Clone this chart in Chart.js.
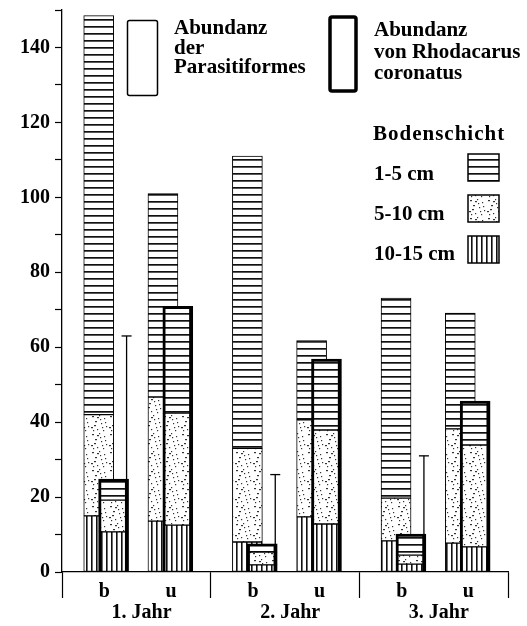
<!DOCTYPE html>
<html><head><meta charset="utf-8">
<script src="https://cdn.jsdelivr.net/npm/chart.js@4"></script>
<style>html,body{margin:0;padding:0;background:#fff;}#wrap{width:527px;height:626px;}</style>
</head><body><div id="wrap"><canvas id="c" width="527" height="626"></canvas></div>
<script>
// ---- data (order: 1.Jahr b, 1.Jahr u, 2.Jahr b, 2.Jahr u, 3.Jahr b, 3.Jahr u)
const years = ['1. Jahr', '2. Jahr', '3. Jahr'];
const sites = ['b', 'u'];
const layerNames = ['1-5 cm', '5-10 cm', '10-15 cm'];
const paraDeep = [15, 13.6, 8, 14.7, 8.3, 7.7];      // 10-15 cm
const paraMid  = [27, 33.1, 25, 25.9, 11.4, 30.5];   // 5-10 cm
const paraTop  = [106.5, 54.3, 78, 21.2, 53.4, 30.9];  // 1-5 cm
const rhodDeep = [10.7, 12.5, 1.9, 12.8, 2.1, 6.7];
const rhodMid  = [8.5, 29.9, 3.4, 25.1, 2.4, 27.2];
const rhodTop  = [5.6, 28.5, 2.2, 18.9, 5.6, 11.7];
const errHigh  = [63, 26, 31];   // error bar tops over Rhodacarus "b"
const yTickValues = [0,10,20,30,40,50,60,70,80,90,100,110,120,130,140,150];
const legendPara = ['Abundanz', 'der', 'Parasitiformes'];
const legendRhod = ['Abundanz', 'von Rhodacarus', 'coronatus'];
const layerTitle = 'Bodenschicht';

// ---- layout constants
const SITE_OFF = [0.247, 0.679];
const RHOD_SHIFT = 0.1;
const LABEL_OFF = [0.285, 0.733];
const GROUP_OFF = 0.535;
const FONT = '"Liberation Serif", "Times New Roman", serif';

// ---- patterns
function makePattern(kind) {
  const c = document.createElement('canvas');
  let g;
  if (kind === 'h') {
    c.width = 8; c.height = 7; g = c.getContext('2d');
    g.fillStyle = '#fff'; g.fillRect(0, 0, 8, 7);
    g.fillStyle = '#111'; g.fillRect(0, 5, 8, 1.7);
  } else if (kind === 'v') {
    c.width = 5; c.height = 6; g = c.getContext('2d');
    g.fillStyle = '#fff'; g.fillRect(0, 0, 5, 6);
    g.fillStyle = '#111'; g.fillRect(1, 0, 1.6, 6);
  } else {
    c.width = 18; c.height = 18; g = c.getContext('2d');
    g.fillStyle = '#fff'; g.fillRect(0, 0, 18, 18);
    g.fillStyle = '#333';
    const dots = [[2,2],[9,1],[14,4],[5,7],[11,9],[16,12],[1,13],[7,15],[13,16],[4,11],[10,5],[15,8],[7,3],[12,13],[3,16]];
    dots.forEach(([x, y], k) => g.fillRect(x, y, k % 3 === 0 ? 2 : 1.2, 1.2));
  }
  return g.createPattern(c, 'repeat');
}
const patH = makePattern('h'), patD = makePattern('d'), patV = makePattern('v');

function pts(arr, shift) {
  return arr.map((v, i) => ({ x: Math.floor(i / 2) + SITE_OFF[i % 2] + shift, y: v }));
}

const rhodBW = { top: 1, left: 3, right: 4, bottom: 1 };
const rhodBWTop = { top: 3, left: 3, right: 4, bottom: 1 };
const datasets = [
  { label: 'Rhod 10-15', data: pts(rhodDeep, RHOD_SHIFT), backgroundColor: patV, borderWidth: rhodBW },
  { label: 'Rhod 5-10', data: pts(rhodMid, RHOD_SHIFT), backgroundColor: patD, borderWidth: rhodBW },
  { label: 'Rhod 1-5', data: pts(rhodTop, RHOD_SHIFT), backgroundColor: patH, borderWidth: rhodBWTop },
  { label: 'Para 10-15', data: pts(paraDeep, 0), backgroundColor: patV, borderWidth: 1 },
  { label: 'Para 5-10', data: pts(paraMid, 0), backgroundColor: patD, borderWidth: 1 },
  { label: 'Para 1-5', data: pts(paraTop, 0), backgroundColor: patH, borderWidth: 1 }
].map(d => Object.assign(d, { borderColor: '#000', borderSkipped: false, stack: 's', grouped: false, barThickness: 30 }));

// x ticks: separators, site labels, group labels
const xTickDefs = [];
years.forEach((yr, i) => {
  xTickDefs.push({ value: i, label: '', sep: true });
  xTickDefs.push({ value: i + LABEL_OFF[0], label: sites[0] });
  xTickDefs.push({ value: i + GROUP_OFF, label: ['', yr] });
  xTickDefs.push({ value: i + LABEL_OFF[1], label: sites[1] });
});
xTickDefs.push({ value: years.length, label: '', sep: true });

const errorBars = {
  id: 'errorBars',
  afterDatasetsDraw(chart) {
    const meta = chart.getDatasetMeta(2);
    const ys = chart.scales.y;
    const ctx = chart.ctx;
    ctx.save();
    ctx.strokeStyle = '#000'; ctx.lineWidth = 1.3;
    errHigh.forEach((v, i) => {
      const el = meta.data[i * 2];
      const x = el.x + el.width / 2 - 2;
      const yTop = ys.getPixelForValue(v);
      ctx.beginPath(); ctx.moveTo(x, el.y); ctx.lineTo(x, yTop); ctx.stroke();
      ctx.beginPath(); ctx.moveTo(x - 5, yTop); ctx.lineTo(x + 5, yTop); ctx.stroke();
    });
    ctx.restore();
  }
};

function roundRect(ctx, x, y, w, h, r) {
  ctx.beginPath();
  ctx.moveTo(x + r, y); ctx.lineTo(x + w - r, y); ctx.quadraticCurveTo(x + w, y, x + w, y + r);
  ctx.lineTo(x + w, y + h - r); ctx.quadraticCurveTo(x + w, y + h, x + w - r, y + h);
  ctx.lineTo(x + r, y + h); ctx.quadraticCurveTo(x, y + h, x, y + h - r);
  ctx.lineTo(x, y + r); ctx.quadraticCurveTo(x, y, x + r, y); ctx.closePath();
}

const customLegend = {
  id: 'customLegend',
  afterDraw(chart) {
    const ctx = chart.ctx;
    ctx.save();
    ctx.fillStyle = '#000'; ctx.strokeStyle = '#000';
    ctx.font = 'bold 21px ' + FONT;
    ctx.textBaseline = 'alphabetic'; ctx.textAlign = 'left';
    // Parasitiformes box
    ctx.lineWidth = 1.5;
    roundRect(ctx, 127.5, 20.5, 30, 75, 2); ctx.stroke();
    legendPara.forEach((t, i) => ctx.fillText(t, 174, 34 + i * 19.5));
    // Rhodacarus box
    ctx.lineWidth = 3.5;
    roundRect(ctx, 330, 17, 26, 74, 2); ctx.stroke();
    legendRhod.forEach((t, i) => ctx.fillText(t, 374, 36 + i * 21.5));
    // layers
    if ('letterSpacing' in ctx) ctx.letterSpacing = '1px';
    ctx.fillText(layerTitle, 373, 140);
    if ('letterSpacing' in ctx) ctx.letterSpacing = '0px';
    const pats = [patH, patD, patV];
    layerNames.forEach((t, i) => {
      ctx.fillText(t, 374, 180 + i * 40);
      ctx.fillStyle = pats[i];
      ctx.fillRect(468, 154 + i * 41, 31, 27);
      ctx.lineWidth = 1.5; ctx.strokeRect(468, 154 + i * 41, 31, 27);
      ctx.fillStyle = '#000';
    });
    ctx.restore();
  }
};

new Chart(document.getElementById('c'), {
  type: 'bar',
  data: { datasets },
  options: {
    responsive: false, animation: false, devicePixelRatio: 1,
    layout: { padding: { top: 10, right: 19, left: 0, bottom: 0 } },
    plugins: { legend: { display: false }, tooltip: { enabled: false } },
    scales: {
      x: {
        type: 'linear', min: 0, max: years.length, stacked: true, offset: false,
        afterBuildTicks: s => { s.ticks = xTickDefs.map(t => ({ value: t.value })); },
        afterFit: s => { s.height = 54; s.paddingLeft = 0; s.paddingRight = 0; },
        ticks: {
          autoSkip: false, maxRotation: 0, minRotation: 0, padding: -16.25, color: '#000',
          font: { family: FONT, size: 20, weight: 'bold', lineHeight: 1.05 },
          callback: (v, i) => xTickDefs[i] ? xTickDefs[i].label : ''
        },
        grid: {
          offset: false, drawOnChartArea: false, drawTicks: true, tickLength: 26, tickWidth: 1.2,
          tickColor: c => (xTickDefs[c.index] && xTickDefs[c.index].sep) ? '#000' : 'rgba(0,0,0,0)'
        },
        border: { display: true, color: '#000', width: 1.2 }
      },
      y: {
        type: 'linear', min: 0, max: 150, stacked: true,
        afterBuildTicks: s => { s.ticks = yTickValues.map(v => ({ value: v })); },
        afterFit: s => { s.width = 62; s.paddingTop = 0; s.paddingBottom = 0; },
        ticks: {
          color: '#000', padding: 5,
          font: { family: FONT, size: 20, weight: 'bold' },
          callback: v => (v % 20 === 0 ? String(v) : '')
        },
        grid: { drawOnChartArea: false, tickLength: 7, tickWidth: 1.2, tickColor: '#000' },
        border: { display: true, color: '#000', width: 1.3 }
      }
    }
  },
  plugins: [errorBars, customLegend]
});
</script></body></html>
